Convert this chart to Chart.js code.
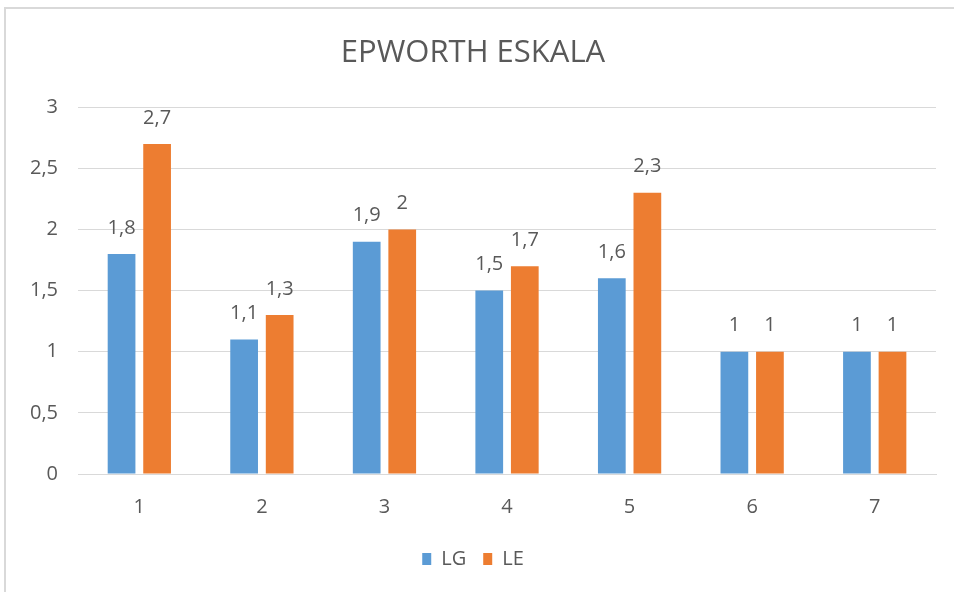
<!DOCTYPE html>
<html>
<head>
<meta charset="utf-8">
<script src="https://cdn.jsdelivr.net/npm/chart.js@4.4.0/dist/chart.umd.min.js"></script>
<style>
  html, body { margin: 0; padding: 0; background: #fff; }
  #box { position: absolute; left: 4px; top: 7px; width: 960px; height: 600px;
         border-left: 2px solid #d9d9d9; border-top: 2px solid #d9d9d9; }
  #wrap { position: absolute; left: -6px; top: -9px; width: 954px; height: 592px; }
</style>
</head>
<body>
<div id="box"><div id="wrap"><canvas id="myChart"></canvas></div></div>
<script>
const categories = ['1', '2', '3', '4', '5', '6', '7'];
const lgValues = [1.8, 1.1, 1.9, 1.5, 1.6, 1, 1];
const leValues = [2.7, 1.3, 2, 1.7, 2.3, 1, 1];
const yTicks = [0, 0.5, 1, 1.5, 2, 2.5, 3];

const fontFamily = "'Open Sans', 'Liberation Sans', sans-serif";
const textColor = '#595959';

function comma(v) {
  return String(v).replace('.', ',');
}

// draws value labels above every bar
const barLabels = {
  id: 'barLabels',
  afterDatasetsDraw(chart) {
    const ctx = chart.ctx;
    ctx.save();
    ctx.font = "20px " + fontFamily;
    ctx.fillStyle = textColor;
    ctx.textAlign = 'center';
    ctx.textBaseline = 'middle';
    chart.data.datasets.forEach((ds, i) => {
      chart.getDatasetMeta(i).data.forEach((bar, j) => {
        ctx.fillText(comma(ds.data[j]), bar.x, bar.y - 26);
      });
    });
    ctx.restore();
  }
};

const data = {
  labels: categories,
  datasets: [
    { label: 'LG', data: lgValues, backgroundColor: '#5b9bd5',
      barPercentage: 0.78, categoryPercentage: 0.58 },
    { label: 'LE', data: leValues, backgroundColor: '#ed7d31',
      barPercentage: 0.78, categoryPercentage: 0.58 }
  ]
};

const config = {
  type: 'bar',
  data: data,
  options: {
    responsive: true,
    maintainAspectRatio: false,
    animation: false,
    layout: { padding: { left: 10, right: 18, top: 35, bottom: 13 } },
    plugins: {
      title: {
        display: true,
        text: 'EPWORTH ESKALA',
        color: textColor,
        font: { family: fontFamily, size: 31, weight: 'normal' },
        padding: { top: 0, bottom: 35 }
      },
      legend: {
        position: 'bottom',
        labels: {
          color: textColor,
          font: { family: fontFamily, size: 20 },
          boxWidth: 9, boxHeight: 12, padding: 17
        }
      },
      tooltip: { enabled: false }
    },
    scales: {
      x: {
        grid: { display: false },
        border: { color: '#d9d9d9' },
        ticks: { color: textColor, font: { family: fontFamily, size: 20 }, padding: 13 }
      },
      y: {
        min: 0, max: 3,
        afterBuildTicks(axis) { axis.ticks = yTicks.map(v => ({ value: v })); },
        grid: { color: '#d9d9d9', drawTicks: false },
        border: { display: false },
        ticks: {
          color: textColor, font: { family: fontFamily, size: 20 }, padding: 20,
          callback: v => comma(v)
        }
      }
    }
  },
  plugins: [barLabels]
};

const myChart = new Chart(document.getElementById('myChart'), config);
</script>
</body>
</html>
